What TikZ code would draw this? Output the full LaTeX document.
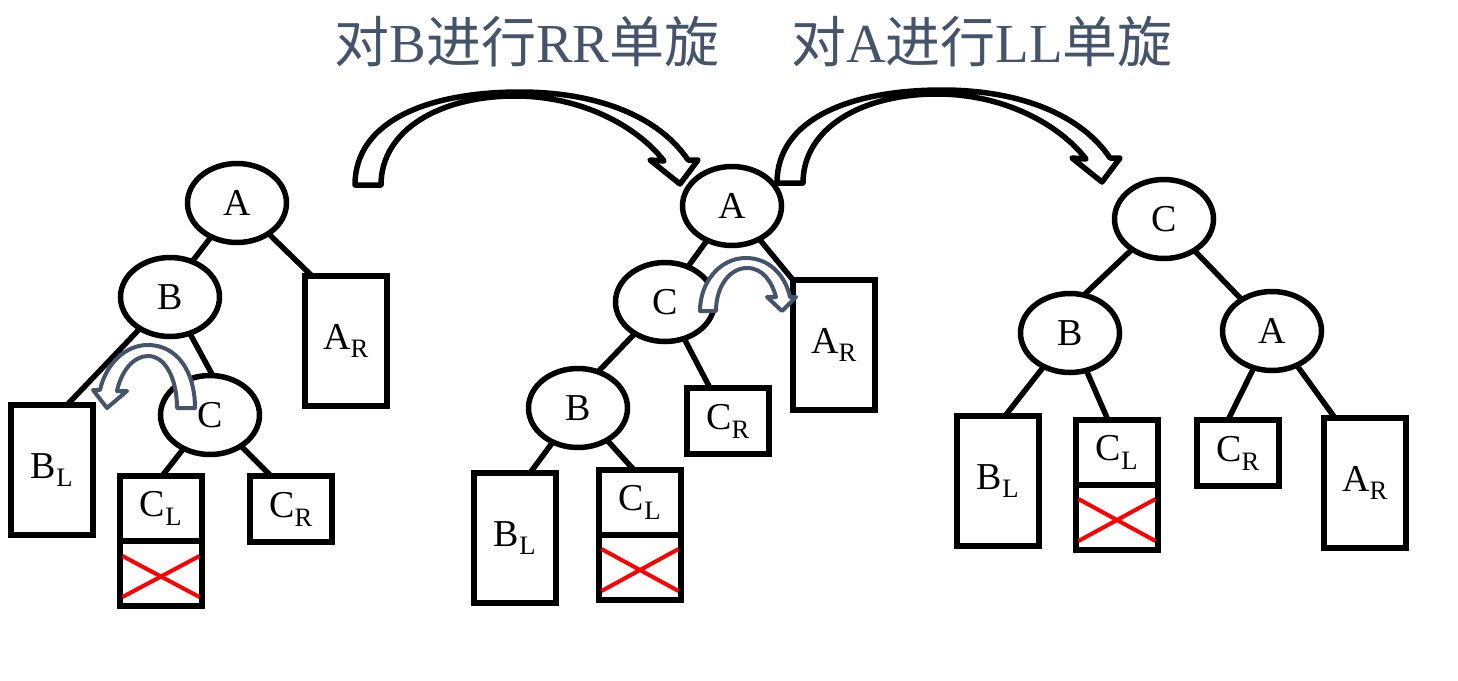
\documentclass[tikz,border=0pt]{standalone}
\usepackage{fontspec}
\setmainfont{Liberation Serif}
\newfontfamily\cjk{Noto Sans CJK SC}
\usepackage{tikz}
\usetikzlibrary{positioning,shapes.geometric,calc}
\definecolor{slate}{HTML}{44546A}

\begin{document}
\begin{tikzpicture}[
    x=1pt, y=-1pt,
    knot/.style={ellipse, draw, line width=5.5, minimum width=99, minimum height=79, inner sep=0, outer sep=0, font=\fontsize{38}{44}\selectfont},
    leaf/.style={rectangle, draw, line width=5.5, minimum width=82, minimum height=130, inner sep=0, outer sep=0, font=\fontsize{38}{44}\selectfont},
    lowbox/.style={minimum height=66},
    halfbox/.style={minimum height=65},
    link/.style={line width=5.5},
    redx/.style={red, line width=4},
    bigturn/.style={draw, line width=5.5, fill=white, line join=round},
    smallturn/.style={draw=slate, line width=4, fill=white, line join=round},
    heading/.style={text=slate, font=\fontsize{55}{60}\selectfont},
    node distance=0pt
]
    \useasboundingbox (0,0) rectangle (1458,680);

    % Titles
    \node[heading] (rr) at (527,42) {{\cjk 对}B{\cjk 进行}RR{\cjk 单旋}};
    \node[heading] (ll) at (982,42) {{\cjk 对}A{\cjk 进行}LL{\cjk 单旋}};

    % Tree before
    \node[knot] (A1) at (237,203) {A};
    \node[knot] (B1) at (170,297) {B};
    \node[knot] (C1) at (210,415) {C};
    \node[leaf] (AR1) at (346,341) {A\textsubscript{R}};
    \node[leaf] (BL1) at (52,470) {B\textsubscript{L}};
    \node[leaf, halfbox, anchor=north] (CL1) at (161,476) {C\textsubscript{L}};
    \node[leaf, halfbox, below=of CL1] (CX1) {};
    \node[leaf, lowbox] (CR1) at (291,509) {C\textsubscript{R}};

    \draw[link] (A1) -- (B1.58);
    \draw[link] (A1) -- ([xshift=-34]AR1.north);
    \draw[link] (B1) -- ([xshift=15]BL1.north);
    \draw[link] (B1) -- (C1.86);
    \draw[link] (C1) -- ([xshift=1]CL1.north);
    \draw[link] (C1) -- ([xshift=-20]CR1.north);

    % Tree after RR
    \node[knot] (A2) at (732,206) {A};
    \node[knot] (C2) at (665,302) {C};
    \node[knot] (B2) at (578,408) {B};
    \node[leaf] (AR2) at (834,345) {A\textsubscript{R}};
    \node[leaf, lowbox] (CR2) at (728,421) {C\textsubscript{R}};
    \node[leaf] (BL2) at (515,538) {B\textsubscript{L}};
    \node[leaf, halfbox, anchor=north] (CL2) at (640,470) {C\textsubscript{L}};
    \node[leaf, halfbox, below=of CL2] (CX2) {};

    \draw[link] (A2) -- (C2.57);
    \draw[link] (A2) -- (AR2.north west);
    \draw[link] (C2) -- (B2.61);
    \draw[link] (C2) -- ([xshift=-18]CR2.north);
    \draw[link] (B2) -- ([xshift=15]BL2.north);
    \draw[link] (B2) -- ([xshift=-6]CL2.north);

    % Tree after LL
    \node[knot] (C3) at (1164,219) {C};
    \node[knot] (B3) at (1070,333) {B};
    \node[knot] (A3) at (1272,331) {A};
    \node[leaf] (BL3) at (998,481) {B\textsubscript{L}};
    \node[leaf, halfbox, anchor=north] (CL3) at (1117,420) {C\textsubscript{L}};
    \node[leaf, halfbox, below=of CL3] (CX3) {};
    \node[leaf, lowbox] (CR3) at (1238,453) {C\textsubscript{R}};
    \node[leaf] (AR3) at (1365,483) {A\textsubscript{R}};

    \draw[link] (C3) -- (B3.70);
    \draw[link] (C3) -- (A3.134);
    \draw[link] (B3) -- ([xshift=7]BL3.north);
    \draw[link] (B3) -- ([xshift=-9]CL3.north);
    \draw[link] (A3) -- ([xshift=-10]CR3.north);
    \draw[link] (A3) -- ([xshift=-30]AR3.north);

    % Crossed out
    \draw[redx] ([xshift=2.5,yshift=-15]CX1.north west) -- ([xshift=-2.5,yshift=9]CX1.south east);
    \draw[redx] ([xshift=2.5,yshift=9]CX1.south west) -- ([xshift=-2.5,yshift=-15]CX1.north east);
    \draw[redx] ([xshift=2.5,yshift=-14]CX2.north west) -- ([xshift=-2.5,yshift=9]CX2.south east);
    \draw[redx] ([xshift=2.5,yshift=9]CX2.south west) -- ([xshift=-2.5,yshift=-14]CX2.north east);
    \draw[redx] ([xshift=2.5,yshift=-14]CX3.north west) -- ([xshift=-2.5,yshift=9]CX3.south east);
    \draw[redx] ([xshift=2.5,yshift=9]CX3.south west) -- ([xshift=-2.5,yshift=-14]CX3.north east);

    % Small turns
    \draw[smallturn] (195,408) -- (177,408) .. controls (177,378) and (165,356) .. (148,356) .. controls (133,356) and (121,372) .. (117,391) -- (127,391) -- (107,408) -- (93,390) -- (100,390) .. controls (106,364) and (125,345) .. (148,345) .. controls (176,345) and (195,370) .. (195,408) -- cycle;
    \draw[smallturn] (700,311) -- (716,311) .. controls (716,286) and (730,268) .. (747,268) .. controls (763,268) and (772,282) .. (776,297) -- (767,297) -- (782,311) -- (796,297) -- (790,297) .. controls (785,274) and (768,258) .. (746,258) .. controls (720,258) and (700,282) .. (700,311) -- cycle;

    % Big turns
    \draw[bigturn] (355,185) -- (381,185) .. controls (381,130) and (440,96) .. (515,96) .. controls (580,96) and (636,125) .. (664,161) -- (650,160) -- (680,184) -- (698,160) -- (688,160) .. controls (660,118) and (600,92) .. (520,92) .. controls (430,92) and (355,120) .. (355,185) -- cycle;
    \draw[bigturn, shift={(422,-2)}] (355,185) -- (381,185) .. controls (381,130) and (440,96) .. (515,96) .. controls (580,96) and (636,125) .. (664,161) -- (650,160) -- (680,184) -- (698,160) -- (688,160) .. controls (660,118) and (600,92) .. (520,92) .. controls (430,92) and (355,120) .. (355,185) -- cycle;
\end{tikzpicture}
\end{document}
